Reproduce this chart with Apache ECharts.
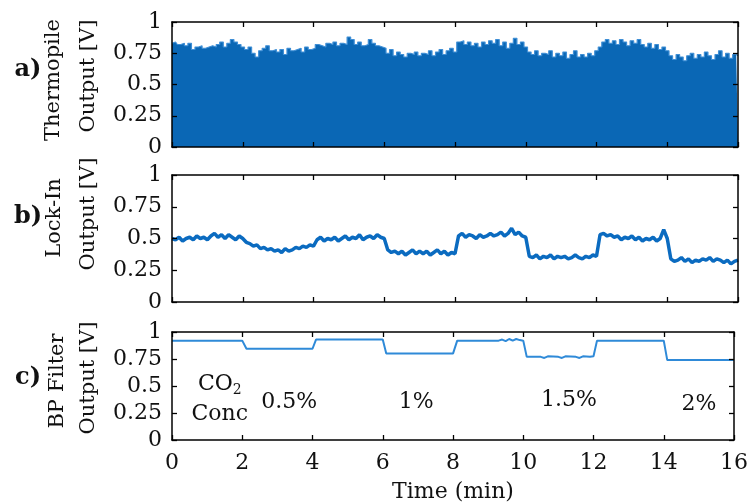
<!DOCTYPE html>
<html>
<head>
<meta charset="utf-8">
<script src="https://cdn.jsdelivr.net/npm/echarts@6/dist/echarts.min.js"></script>
<style>
    html, body { margin: 0; padding: 0; background: #fff; }
    #chart { width: 751px; height: 504px; }
</style>
</head>
<body>
<div id="chart"></div>
<script>
// time base, 0.1 min steps
const timeMin = Array.from({ length: 161 }, (_, i) => +(i * 0.1).toFixed(1));

// a) thermopile output envelope [V]
const thermopile = [
    0.83, 0.84, 0.82, 0.83, 0.81, 0.83,
    0.78, 0.80, 0.81, 0.79, 0.80,
    0.81, 0.80, 0.82, 0.84, 0.80,
    0.83, 0.86, 0.84, 0.82, 0.80,
    0.78, 0.80, 0.75, 0.72, 0.77,
    0.79, 0.81, 0.77, 0.78, 0.76,
    0.78, 0.74, 0.79, 0.77, 0.78,
    0.79, 0.76, 0.80, 0.78, 0.79,
    0.82, 0.81, 0.80, 0.83, 0.82,
    0.84, 0.81, 0.83, 0.82, 0.88,
    0.86, 0.82, 0.84, 0.81, 0.82,
    0.86, 0.83, 0.81, 0.80, 0.79,
    0.75, 0.78, 0.73, 0.76, 0.74,
    0.72, 0.75, 0.74, 0.76, 0.73,
    0.75, 0.74, 0.77, 0.73, 0.76,
    0.78, 0.74, 0.77, 0.79, 0.76,
    0.84, 0.85, 0.82, 0.84, 0.81,
    0.83, 0.80, 0.84, 0.82, 0.85,
    0.83, 0.86, 0.81, 0.84, 0.79,
    0.83, 0.87, 0.82, 0.84, 0.80,
    0.76, 0.74, 0.77, 0.73, 0.75,
    0.74, 0.77, 0.72, 0.75, 0.73,
    0.76, 0.71, 0.74, 0.77, 0.72,
    0.74, 0.72, 0.75, 0.73, 0.77,
    0.80, 0.84, 0.86, 0.83, 0.85,
    0.82, 0.86, 0.84, 0.81, 0.85,
    0.83, 0.86, 0.82, 0.80, 0.83,
    0.79, 0.82, 0.78, 0.80, 0.77,
    0.73, 0.70, 0.74, 0.72, 0.69,
    0.73, 0.75, 0.71, 0.74, 0.72,
    0.76, 0.73, 0.70, 0.74, 0.77,
    0.72, 0.75, 0.71, 0.74, 0.73
];

// b) lock-in output [V]
const lockIn = [
    0.50, 0.49, 0.51, 0.48, 0.50, 0.51,
    0.49, 0.52, 0.50, 0.51, 0.49,
    0.52, 0.54, 0.51, 0.53, 0.50,
    0.53, 0.51, 0.49, 0.52, 0.50,
    0.47, 0.46, 0.44, 0.45, 0.42,
    0.43, 0.41, 0.42, 0.40, 0.41,
    0.39, 0.42, 0.40, 0.41, 0.43,
    0.42, 0.44, 0.43, 0.45, 0.44,
    0.49, 0.51, 0.48, 0.50, 0.49,
    0.51, 0.48, 0.50, 0.52, 0.49,
    0.51, 0.50, 0.53, 0.49, 0.51,
    0.52, 0.50, 0.53, 0.51, 0.50,
    0.41, 0.39, 0.40, 0.38, 0.40,
    0.37, 0.39, 0.41, 0.38, 0.40,
    0.38, 0.40, 0.37, 0.39, 0.41,
    0.38, 0.40, 0.37, 0.39, 0.38,
    0.52, 0.54, 0.51, 0.53, 0.52,
    0.50, 0.53, 0.51, 0.52, 0.54,
    0.52, 0.53, 0.55, 0.52, 0.54,
    0.58, 0.53, 0.55, 0.52, 0.51,
    0.36, 0.35, 0.37, 0.34, 0.36,
    0.35, 0.37, 0.34, 0.36, 0.35,
    0.36, 0.34, 0.35, 0.37, 0.35,
    0.34, 0.36, 0.35, 0.37, 0.36,
    0.53, 0.54, 0.52, 0.53, 0.51,
    0.52, 0.49, 0.51, 0.50, 0.52,
    0.49, 0.51, 0.48, 0.50, 0.49,
    0.51, 0.48, 0.50, 0.57, 0.50,
    0.34, 0.32, 0.33, 0.35, 0.32,
    0.34, 0.31, 0.33, 0.32, 0.34,
    0.33, 0.35, 0.32, 0.34, 0.33,
    0.31, 0.33, 0.30, 0.32, 0.33
];

// c) band-pass filter output [V], breakpoints
const bpTime = [0, 2.0, 2.12, 4.0, 4.1, 6.0, 6.1, 8.0, 8.12,
    9.3, 9.4, 9.5, 9.6, 9.7, 9.8, 9.9, 10.0,
    10.1, 10.5, 10.6, 10.7, 11.0, 11.1, 11.2, 11.5, 11.6, 11.7, 11.9, 12.0,
    12.1, 14.0, 14.1, 16.0];
const bpValue = [0.92, 0.92, 0.845, 0.845, 0.93, 0.93, 0.80, 0.80, 0.92,
    0.92, 0.93, 0.915, 0.935, 0.92, 0.935, 0.925, 0.92,
    0.77, 0.77, 0.76, 0.775, 0.77, 0.76, 0.775, 0.77, 0.76, 0.775, 0.77, 0.775,
    0.92, 0.92, 0.74, 0.74];

// annotations in panel c (data coords)
const annoText = ['CO{s|2}', 'Conc', '0.5%', '1%', '1.5%', '2%'];
const annoTime = [1.36, 1.36, 3.34, 6.95, 11.3, 15.0];
const annoLevel = [0.52, 0.24, 0.35, 0.35, 0.37, 0.33];

const xTicks = { min: 0, max: 16, interval: 2 };
const yTicks = { min: 0, max: 1, interval: 0.25 };

const FONT = 'DejaVu Serif';
const black = '#000';
const textColor = '#111';

const tickStyle = { show: true, inside: true, length: 5, lineStyle: { color: black, width: 1.3 } };
const lineStyle = { show: true, onZero: false, lineStyle: { color: black, width: 1.5 } };
const labelStyle = { fontFamily: FONT, fontSize: 22, color: textColor };

const grids = [
    { left: 172, top: 22, width: 566, height: 125 },
    { left: 172, top: 175, width: 566, height: 127 },
    { left: 172, top: 332, width: 566, height: 112 },
];

const xAxes = [];
const yAxes = [];
grids.forEach((g, i) => {
    const last = i === grids.length - 1;
    xAxes.push({
        type: 'value', gridIndex: i, position: 'bottom', ...xTicks, z: 5,
        axisLine: lineStyle, axisTick: tickStyle, splitLine: { show: false },
        axisLabel: { show: last, margin: 12, ...labelStyle },
        ...(last && {
            name: 'Time (min)', nameLocation: 'middle', nameGap: 41,
            nameTextStyle: { fontFamily: FONT, fontSize: 22, color: textColor },
        }),
    });
    xAxes.push({
        type: 'value', gridIndex: i, position: 'top', ...xTicks, z: 5,
        axisLine: lineStyle, axisTick: tickStyle, splitLine: { show: false },
        axisLabel: { show: false },
    });
    yAxes.push({
        type: 'value', gridIndex: i, position: 'left', ...yTicks, z: 5,
        axisLine: lineStyle, axisTick: tickStyle, splitLine: { show: false },
        axisLabel: { margin: 10, ...labelStyle },
    });
    yAxes.push({
        type: 'value', gridIndex: i, position: 'right', ...yTicks, z: 5,
        axisLine: lineStyle, axisTick: tickStyle, splitLine: { show: false },
        axisLabel: { show: false },
    });
});

const nameText = (text, x, y) => ({
    type: 'text', x, y, rotation: Math.PI / 2,
    style: { text, fontFamily: FONT, fontSize: 21, fill: textColor, align: 'center', verticalAlign: 'middle' },
});
const panelTag = (text, y) => ({
    type: 'text', x: 28, y,
    style: { text, fontFamily: FONT, fontSize: 24, fontWeight: 'bold', fill: textColor, align: 'center', verticalAlign: 'middle' },
});

const option = {
    animation: false,
    backgroundColor: '#fff',
    grid: grids,
    xAxis: xAxes,
    yAxis: yAxes,
    graphic: [
        nameText('Thermopile', 54, 80),
        nameText('Output [V]', 89, 76),
        nameText('Lock-In', 55, 218),
        nameText('Output [V]', 89, 214),
        nameText('BP Filter', 58, 381),
        nameText('Output [V]', 89, 378),
        panelTag('a)', 70),
        panelTag('b)', 217),
        panelTag('c)', 378),
    ],
    series: [
        {
            type: 'line', xAxisIndex: 0, yAxisIndex: 0, step: 'middle', symbol: 'none',
            data: timeMin.map((t, i) => [t, thermopile[i]]),
            lineStyle: { color: '#3f8fd6', width: 1.2 },
            areaStyle: { color: '#0a67b5', opacity: 1 },
            z: 2,
        },
        {
            type: 'line', xAxisIndex: 2, yAxisIndex: 2, symbol: 'none',
            data: timeMin.map((t, i) => [t, lockIn[i]]),
            lineStyle: { color: '#0b6bc0', width: 3.5 },
            z: 2,
        },
        {
            type: 'line', xAxisIndex: 4, yAxisIndex: 4, symbol: 'none',
            data: bpTime.map((t, i) => [t, bpValue[i]]),
            lineStyle: { color: '#2f8ad8', width: 2 },
            z: 2,
        },
        {
            type: 'scatter', xAxisIndex: 4, yAxisIndex: 4, symbolSize: 0, silent: true,
            itemStyle: { opacity: 1 },
            data: annoTime.map((t, i) => ({ value: [t, annoLevel[i]], name: annoText[i] })),
            label: {
                show: true, position: 'inside', formatter: p => p.name,
                fontFamily: FONT, fontSize: 22, color: textColor,
                rich: { s: { fontFamily: FONT, fontSize: 14, color: textColor, verticalAlign: 'bottom', padding: [14, 0, 0, 0] } },
            },
            z: 3,
        },
    ],
};

const myChart = echarts.init(document.getElementById('chart'));
myChart.setOption(option);
</script>
</body>
</html>
